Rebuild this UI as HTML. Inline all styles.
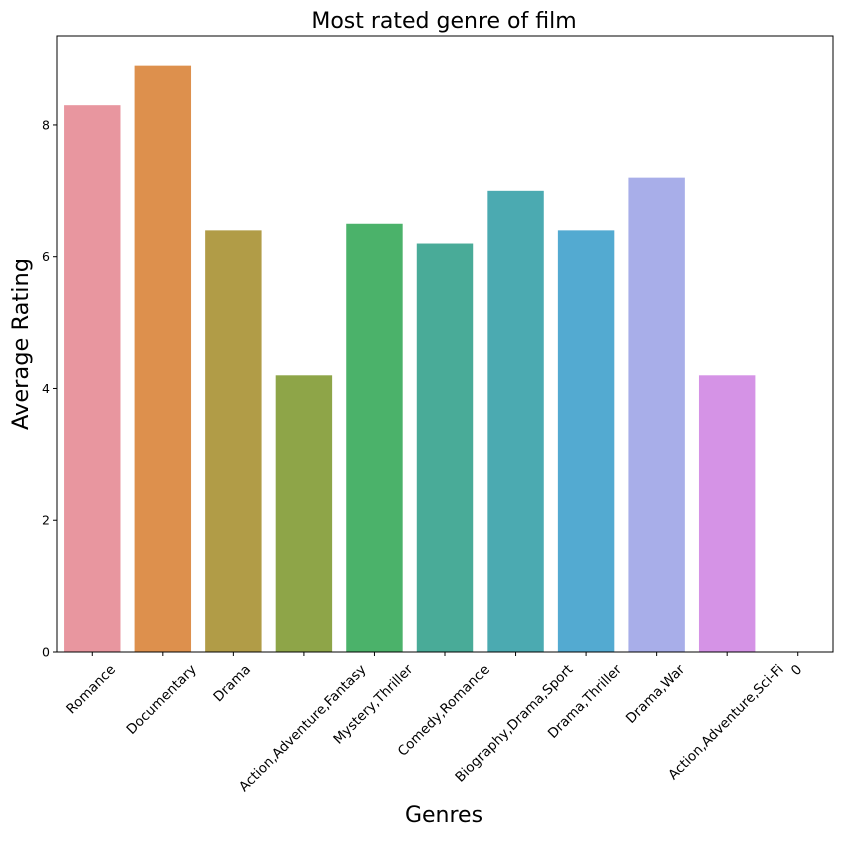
<!DOCTYPE html>
<html><head><meta charset="utf-8"><style>
body{margin:0;background:#fff;}
svg text{font-family:"DejaVu Sans","Liberation Sans",sans-serif;}
</style></head><body>
<svg id="chart" width="842" height="836" xmlns="http://www.w3.org/2000/svg">
<text x="444" y="28" font-size="22" text-anchor="middle">Most rated genre of film</text>
<text x="444" y="822" font-size="22" text-anchor="middle">Genres</text>
<text transform="translate(28,344) rotate(-90)" font-size="22.5" text-anchor="middle">Average Rating</text>
<g id="bars"></g><g id="xt"></g><g id="yt"></g>
<rect x="57" y="36" width="776" height="616" fill="none" stroke="#000" stroke-width="1"/>
</svg>
<script>
const categories=["Romance","Documentary","Drama","Action,Adventure,Fantasy","Mystery,Thriller","Comedy,Romance","Biography,Drama,Sport","Drama,Thriller","Drama,War","Action,Adventure,Sci-Fi","0"];
const values=[8.3,8.9,6.4,4.2,6.5,6.2,7.0,6.4,7.2,4.2,0];
const colors=["#e8969f","#dd904d","#b19c47","#8ea548","#4bb26a","#49ab98","#4baab1","#53aad1","#a8aee9","#d593e6","#e891cf"];
const yTicks=[0,2,4,6,8];
const L=57,R=833,T=36,B=652,YMAX=9.35;
const ns="http://www.w3.org/2000/svg";
const bw=(R-L)/categories.length;
const x=i=>L+bw*(i+0.5);
const y=v=>B-(v/YMAX)*(B-T);
const bars=document.getElementById('bars'),xt=document.getElementById('xt'),yt=document.getElementById('yt');
categories.forEach((c,i)=>{
 const r=document.createElementNS(ns,'rect');
 r.setAttribute('x',x(i)-bw*0.4);r.setAttribute('width',bw*0.8);
 r.setAttribute('y',y(values[i]));r.setAttribute('height',B-y(values[i]));
 r.setAttribute('fill',colors[i]);
 
 
 bars.appendChild(r);
 const tk=document.createElementNS(ns,'line');
 tk.setAttribute('x1',x(i));tk.setAttribute('x2',x(i));tk.setAttribute('y1',B);tk.setAttribute('y2',B+4);tk.setAttribute('stroke','#000');
 
 
 xt.appendChild(tk);
 const t=document.createElementNS(ns,'text');
 t.setAttribute('text-anchor','middle');t.setAttribute('font-size','13.5');t.textContent=c;
 
 
 xt.appendChild(t);
 const len=t.getComputedTextLength();
 const h=(len+14)*0.7071;
 t.setAttribute('transform','translate('+(x(i)-1.5)+','+(B+10+h/2)+') rotate(-45) translate(0,4.5)');
});
yTicks.forEach(v=>{
 const tk=document.createElementNS(ns,'line');
 tk.setAttribute('x1',L-4);tk.setAttribute('x2',L);tk.setAttribute('y1',y(v));tk.setAttribute('y2',y(v));tk.setAttribute('stroke','#000');
 
 
 yt.appendChild(tk);
 const t=document.createElementNS(ns,'text');
 t.setAttribute('x',L-7);t.setAttribute('y',y(v)+4.5);t.setAttribute('text-anchor','end');t.setAttribute('font-size','12.5');t.textContent=v;
 
 
 yt.appendChild(t);
});
</script>
</body></html>
